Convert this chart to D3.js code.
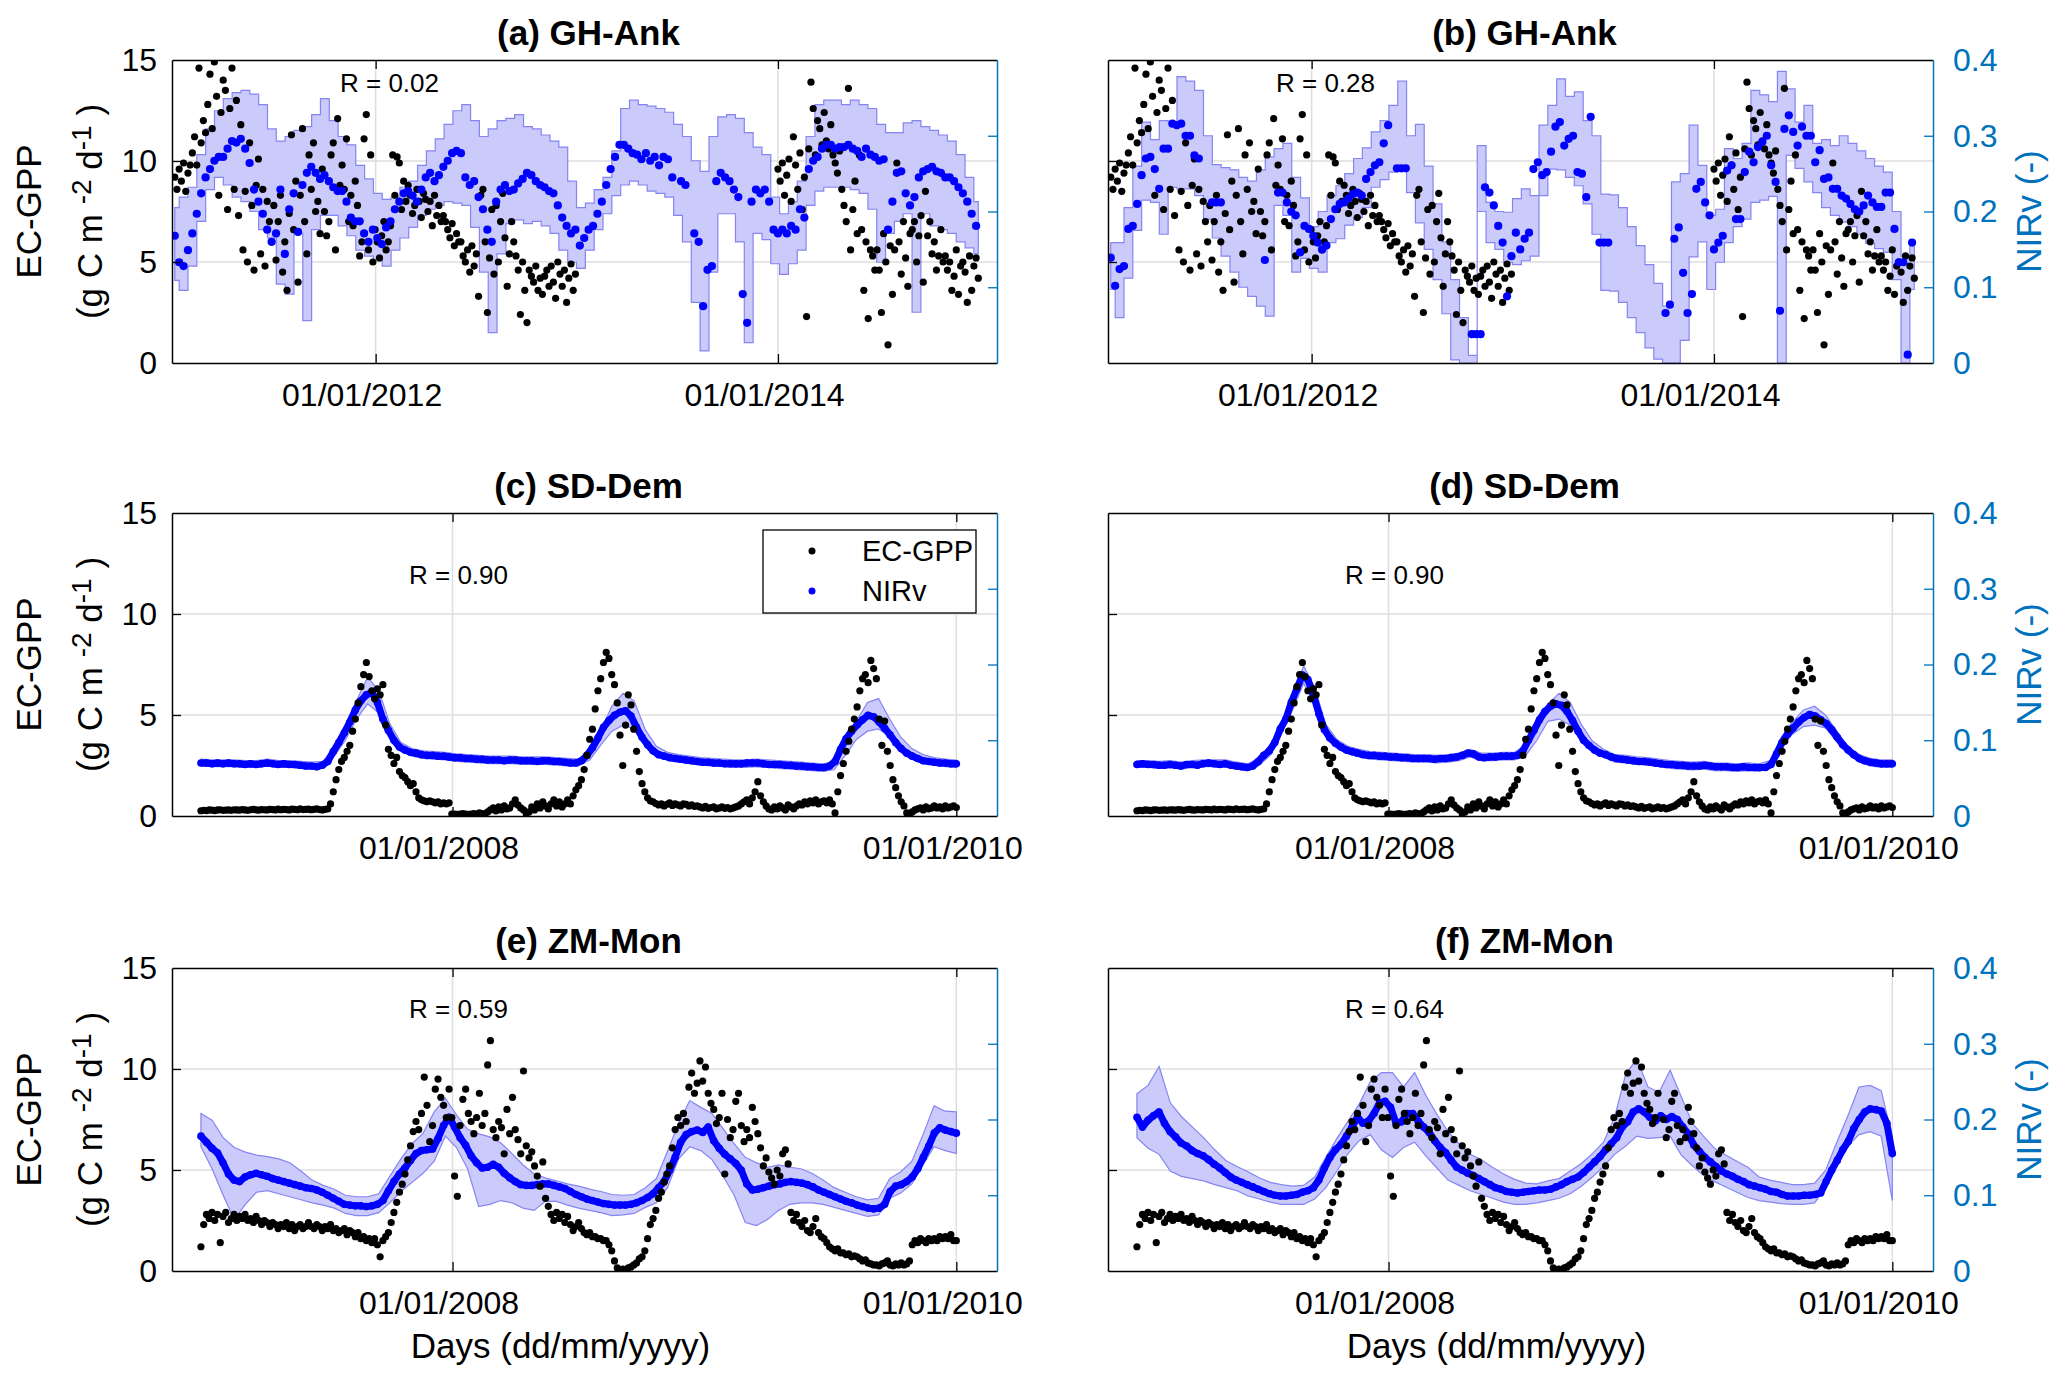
<!DOCTYPE html>
<html lang="en">
<head>
<meta charset="UTF-8">
<title>EC-GPP and NIRv at three sites</title>
<script src="https://d3js.org/d3.v7.min.js"></script>
<style>
  body { margin: 0; background: #fff; }
</style>
</head>
<body>
<script>
// ---------------- data ----------------
const sites = ["GH-Ank", "SD-Dem", "ZM-Mon"];
const rValues = [0.02, 0.28, 0.90, 0.90, 0.59, 0.64];
const ghTicks = ["2012-01-01", "2014-01-01"];
const sdzmTicks = ["2008-01-01", "2010-01-01"];
const ghDomain = ["2010-12-27", "2015-02-03"];
const sdzmDomain = ["2006-11-20", "2010-03-01"];
const gppTicks = [0, 5, 10, 15];
const nirvTicks = [0, 0.1, 0.2, 0.3, 0.4];

// GH-Ank EC-GPP, 4-day samples, 2011-01-01 .. 2012-12-29
const ghGpp1112 = [
  9.2,8.6,9.6,9.0,9.9,8.5,9.4,9.8, 10.4,11.2,9.8,14.6,10.9,12.0,11.4,
  12.8,14.3,11.6,14.9,13.2,8.3,12.4,14.0, 13.5,7.6,12.6,14.6,8.6,13.0,7.3,
  11.8,5.6,8.5,5.0,10.9,7.8,4.6,8.8, 10.1,5.4,8.6,4.8,8.0,7.0,6.0,
  7.8,5.1,7.0,8.3,4.5,6.0,3.6,7.4, 11.3,6.6,9.0,4.0,8.3,11.6,7.0,5.4,
  10.3,8.6,10.9,7.5,8.0,6.4,9.6, 7.5,6.3,7.0,10.3,10.9,5.6,12.1,8.8,
  9.8,8.6,11.1,7.0,8.3,6.8,9.0, 7.8,5.3,6.0,11.1,12.3,5.6,10.3,5.0,
  6.6,6.0,5.2,6.3,7.0,5.6,6.0,6.8, 10.3,8.3,10.2,9.9,7.6,9.0,8.0,
  8.8,8.3,7.4,7.8,8.6,8.0,7.2,8.4, 8.1,7.5,8.0,6.8,8.3,7.3,7.8,7.0,
  7.3,7.0,6.6,6.2,6.9,5.8,6.4,6.0, 6.0,5.3,5.0,5.6,4.5,5.8,4.8,
  5.4,3.3,8.3,8.6,6.0,2.5,5.2,7.6, 4.4,7.8,5.0,7.0,8.4,6.2,3.8,5.4,
  7.0,6.0,5.3,4.6,2.4,5.0,3.6, 2.0,4.6,4.3,4.0,4.8,3.6,4.2,3.4,
  4.3,4.6,3.8,4.8,4.0,3.2,5.0, 4.4,3.8,4.6,3.0,4.2,4.9,3.6,4.4
];
// GH-Ank EC-GPP, 4-day samples, 2014-01-01 .. 2014-12-31 (no data in 2013)
const ghGpp14 = [
  9.6,9.0,9.9,8.3,9.3,10.1,8.0,11.2, 9.8,8.6,10.4,7.6,9.2,2.3,10.6,
  13.9,12.6,10.3,12.0,11.6,10.8,12.4,11.0, 10.6,11.8,10.3,9.9,9.4,10.5,8.6,
  7.8,7.0,13.6,5.6,7.6,9.0,6.4,10.3, 6.6,3.6,6.0,2.2,5.6,5.3,4.6,
  5.6,4.6,2.5,6.4,5.0,0.9,5.8,3.4, 5.6,9.9,6.0,4.4,7.0,5.2,3.8,6.4,
  6.6,7.0,5.0,6.3,7.3,4.0,8.5, 6.3,7.0,5.4,6.0,4.6,5.3,6.6,5.0,
  5.3,4.6,5.0,3.6,4.3,5.6,3.4,4.8, 5.0,4.5,3.0,5.3,3.6,4.8,5.2,4.2
];
// GH-Ank NIRv, 8-day samples, 2011-01-01 .. 2014-12-27
const ghNirvA = [
  .168,.133,.128,.149, .171,.197,.224, .245,.256,.267,.272, .272,.283,.293,.291,
  .296,.283,.264,.229, .213,.197,.176,.160, .171,.229,.144,.203, .224,.173,.235,.251,
  .259,.251,.243, .248,.240,.232,.227, .227,.213,.192,.187, .187,.171,.160,.176,
  .165,.157,.179,.187, .203,.213,.224, .227,.221,.213,.229, .245,.251,.240,.248,
  .259,.267,.277,.280, .277,.245,.235,.240, .219,.203,.176,.160, .213,.229,.235,.227,
  .229,.237,.243, .251,.248,.240,.235, .232,.227,.224,.208, .192,.181,.171,.176,
  .155,.165,.176,.181, .197,.213,.235, .256,.272,.288,.288, .283,.277,.275,.269,
  .277,.267,.272,.261, .272,.269,.245,null, .240,.235,null,.171, .160,.075,.123,.128,
  .240,.251,.245, .240,.229,.219,.091, .053,.213,.229,.224, .229,.213,.176,.171,
  .176,.171,.181,.176, .203,.192,.256, .267,.272,.283,.288, .288,.283,.285,.285,
  .288,.283,.280,.272, .283,.275,.272,.267, .269,.176,.213,.251, .253,.224,.208,.219,
  .245,.253,.256, .259,.253,.251,.245, .245,.240,.232,.224, .213,.197,.181
];
const ghNirvB = [
  .139,.102,.124,.128, .177,.181,.210, .248,.270,.272,.256, .230,.283,.283,.316,
  .314,.316,.300,.300, .274,.270,null,null, .212,.212,.212,null, null,null,null,null,
  null,null,null, null,.136,null,null, .225,.225,.212,.200, .195,.146,.181,.177,
  .168,.159,.150,.155, .190,.203,.210, .212,.217,.223,.225, .221,.243,.252,.261,
  .265,.290,.314,null, .257,.257,.257,null, null,null,null,null, null,null,null,null,
  null,null,null, null,null,.038,.038, .038,.232,.225,.208, .181,.159,.088,.141,
  .172,.150,.164,.172, .256,.265,.248, .252,.279,.312,.318, .287,.296,.300,.252,
  .250,.219,.325,null, .159,.159,.159,null, null,null,null,null, null,null,null,null,
  null,null,null, .066,.077,.164,.179, .119,.066,.091,.230, .239,.212,.195,.150,
  .159,.168,.254,.261, .190,.190,.252, .279,.265,.285,.292, .300,.261,.239,.069,
  .309,.327,.305,.287, .312,.300,.300,.265, .281,.243,.245,.230, .230,.221,.217,.210,
  .203,.200,.208, .221,.212,.206,.206, .225,.225,.177,.133, .133,.011,.159
];
// GH-Ank NIRv uncertainty band, 16-day samples, 2011-01-01 .. 2014-12-31
const ghHiA = [
  .205,.219,.232,.275,.309,.333,.349,.357,.360,.355, .341,.309,.293,.299,.307,.312,.328,.349,.320,.299,
  .288,.261,.243,.224,.216,.219,.232,.240,.261,.280, .296,.315,.333,.341,.320,.299,.309,.320,.323,.328,
  .312,.309,.301,.293,.285,.240,.205,.211,.229,.245, .280,.336,.347,.341,.339,.336,.331,.315,.299,.267,
  .253,.299,.325,.328,.323,.304,.285,.275,.219,.197, .213,.240,.299,.341,.347,.347,.341,.347,.341,.336,
  .315,.304,.304,.317,.320,.312,.307,.301,.293,.275, .245,.213
];
const ghLoA = [
  .109,.096,.128,.187,.229,.245,.235,.219,.213,.200, .176,.165,.104,.091,.171,.056,.176,.195,.195,.181,
  .168,.149,.141,.136,.128,.149,.165,.179,.195,.203, .208,.213,.211,.208,.179,.120,.040,.144,.184,.189,
  .184,.187,.181,.171,.149,.133,.125,.149,.176,.197, .221,.235,.240,.235,.227,.224,.219,.195,.160,.080,
  .016,.120,.197,.197,.160,.027,.171,.163,.131,.117, .131,.149,.208,.227,.232,.232,.232,.229,.224,.203,
  .133,.171,.187,.197,.067,.197,.181,.176,.171,.160, .152,.144
];
const ghHiB = [
  .159,.159,.205,.260,.318,.295,.320,.318,.378,.372, .360,.300,.262,.258,.255,.245,.240,.255,.272,.283,
  .290,.245,.218,.180,.200,.221,.234,.250,.270,.284, .305,.320,.340,.372,.300,.315,.260,.210,.160,.110,
  .060,.010,.287,.212,.200,.199,.217,.230,.221,.314, .340,.375,.352,.358,.320,.300,.223,.222,.205,.180,
  .155,.130,.105,.075,.239,.250,.314,.261,.195,.203, .283,.270,.290,.360,.354,.345,.385,.362,.318,.340,
  .290,.295,.287,.300,.290,.280,.270,.260,.252,.200, .141,.159
];
const ghLoB = [
  .097,.060,.112,.175,.215,.212,.170,.232,.230,.230, .221,.190,.165,.141,.120,.100,.088,.075,.062,.208,
  .195,.120,.138,.125,.120,.159,.164,.182,.192,.205, .232,.242,.252,.256,.225,.185,.150,.110,.065,.004,
  0,0,.200,.159,.150,.133,.130,.135,.141,.221, .256,.255,.245,.234,.210,.170,.096,.095,.080,.060,
  .040,.020,.005,0,0,.030,.140,.160,.097,.133, .159,.180,.190,.212,.215,.220,0,.274,.257,.239,
  .225,.205,.195,.186,.180,.170,.158,.151,.146,.110, 0,.097
];

// SD-Dem EC-GPP, 4-day samples, 2007-01-01 .. 2010-01-01
const sdGpp = [
  0.26,0.28,0.27,0.3,0.29,0.27,0.3,0.31,0.28,0.29, 0.3,0.28,0.31,0.3,0.29,0.32,0.3,0.28,0.31,0.33,
  0.3,0.29,0.32,0.31,0.3,0.33,0.32,0.3,0.34,0.31, 0.33,0.32,0.3,0.34,0.33,0.31,0.35,0.32,0.33,0.34,
  0.31,0.33,0.35,0.32,0.3,0.33,0.35,
  0.6,1.2,1.8,2.3,2.7,2.9,3.2,3.5,4.2,4.8, 5.6,6.4,7.0,7.6,6.9,6.2,5.8,6.3,6.0,6.5,
  4.5,3.3,3.0,2.6,2.9,2.2,2.0,1.9,1.7,1.5, 1.6,1.2,0.9,0.8,0.75,0.7,0.75,0.7,0.65,0.7,
  0.6,0.65,0.6,0.65,0.1,
  0.1,0.08,0.1,0.12,0.1,0.08,0.1,0.12,0.1,0.15,0.12,0.1,0.2,0.3,
  0.4,0.25,0.45,0.3,0.5,0.35,0.4,0.6,0.8,0.55, 0.4,0.3,0.1,0.2,0.45,0.3,0.6,0.4,0.7,0.5,
  0.35,0.6,0.8,0.5,0.7,0.45,0.6,0.8,0.6,1.0, 1.3,1.5,1.8,2.3,3.0,3.8,4.3,5.3,6.2,6.8,
  7.6,8.1,7.8,7.0,6.5,5.6,4.0,2.5,4.5,6.0, 5.5,4.3,3.2,2.2,1.6,1.2,0.9,0.75,0.7,
  0.62,0.55,0.6,0.5,0.58,0.65,0.52,0.6,0.55,0.5,0.6,0.58,0.5,0.55,0.48,0.5,
  0.45,0.4,0.48,0.38,0.42,0.45,0.35,0.4,0.45,0.38,0.42,0.35,0.4,0.45,0.5,
  0.6,0.7,0.8,0.6,0.9,1.2,1.7,1.0,0.7,0.5,0.35,
  0.3,0.45,0.35,0.5,0.4,0.3,0.55,0.45,0.35,0.5,0.6,
  0.55,0.7,0.6,0.75,0.65,0.8,0.6,0.7,0.75,0.65,0.8,
  0.6,0.15,1.2,2.0,2.6,3.2,3.7,4.3,4.8,5.4, 6.2,6.8,7.0,6.6,7.7,7.3,6.8,4.8,3.5,4.7,
  3.2,2.5,1.8,1.4,1.0,0.7,0.5,0.15,0.05,0.2,
  0.3,0.35,0.4,0.3,0.45,0.35,0.4,0.5,0.4,0.45,0.35,0.5,0.4,0.45,0.5,0.42
];
// SD-Dem NIRv, 8-day samples, 2007-01-01 .. 2010-01-01
const sdNirvC = [
  .070,.070,.069,.070,.069,.070,.069,.069,.068,.069, .068,.069,.070,.069,.068,.069,.068,.068,.067,.066,
  .066,.065,.067,.072,.085,.097,.110,.124,.140,.152, .160,.163,.150,.128,.113,.100,.091,.087,.084,.083,
  .081,.080,.080,.079,.079,.078,.077,.077,.076,.076, .075,.075,.074,.074,.074,.073,.074,.074,.073,.073,
  .073,.072,.073,.073,.072,.072,.071,.070,.070,.073, .080,.090,.103,.117,.126,.133,.137,.139,.132,.117,
  .104,.094,.086,.081,.079,.077,.076,.075,.074,.073, .072,.071,.071,.070,.070,.069,.069,.069,.069,.070,
  .070,.070,.069,.068,.068,.068,.067,.067,.066,.066, .065,.065,.064,.064,.066,.072,.088,.102,.112,.120,
  .127,.133,.131,.124,.116,.107,.097,.089,.083,.079, .076,.073,.072,.071,.070,.070,.069,.069
];
const sdNirvD = [
  .068,.069,.068,.068,.067,.067,.068,.067,.066,.068, .068,.067,.069,.070,.069,.068,.069,.067,.066,.065,
  .064,.066,.072,.080,.086,.097,.115,.128,.150,.168, .186,.180,.160,.135,.114,.103,.096,.091,.087,.085,
  .083,.081,.080,.080,.079,.079,.078,.078,.077,.077, .076,.076,.076,.076,.075,.076,.076,.077,.078,.080,
  .083,.082,.078,.077,.078,.078,.079,.079,.079,.080, .086,.100,.113,.127,.138,.145,.148,.146,.138,.126,
  .112,.100,.093,.087,.083,.081,.078,.076,.075,.074, .073,.072,.072,.071,.070,.069,.068,.068,.067,.067,
  .066,.066,.066,.067,.066,.065,.065,.065,.064,.064, .065,.064,.064,.064,.064,.068,.082,.097,.108,.116,
  .124,.130,.134,.132,.127,.122,.114,.104,.094,.087, .081,.076,.073,.071,.070,.069,.069,.069
];
// SD-Dem NIRv band, 16-day samples
const sdHiC = [
  .075,.074,.074,.074,.073,.073,.075,.073,.073,.072, .071,.072,.092,.120,.152,.183,.166,.122,.097,.089,
  .086,.085,.084,.082,.081,.080,.079,.079,.079,.078, .078,.078,.077,.076,.075,.087,.114,.145,.162,.152,
  .114,.092,.084,.081,.079,.077,.076,.075,.074,.074, .075,.074,.073,.072,.071,.070,.069,.071,.097,.125,
  .150,.155,.128,.104,.089,.081,.077,.075,.074
];
const sdLoC = [
  .066,.065,.065,.065,.064,.064,.066,.064,.064,.063, .062,.063,.079,.100,.128,.148,.136,.104,.086,.079,
  .076,.075,.074,.072,.071,.070,.069,.069,.069,.068, .068,.068,.067,.066,.066,.074,.094,.112,.120,.115,
  .094,.080,.074,.071,.069,.067,.066,.065,.064,.064, .065,.064,.063,.062,.061,.060,.059,.061,.080,.101,
  .112,.115,.105,.090,.078,.071,.067,.065,.064
];
const sdHiD = [
  .073,.073,.072,.073,.071,.073,.074,.074,.074,.071, .069,.077,.092,.122,.160,.198,.170,.121,.101,.092,
  .088,.085,.084,.083,.082,.081,.081,.080,.081,.083, .088,.083,.083,.084,.084,.094,.122,.148,.162,.150,
  .121,.099,.088,.081,.080,.078,.077,.075,.073,.072, .071,.072,.070,.070,.069,.070,.069,.073,.104,.124,
  .140,.145,.133,.112,.092,.081,.076,.074,.074
];
const sdLoD = [
  .064,.064,.063,.064,.062,.064,.065,.065,.065,.062, .060,.067,.080,.108,.140,.175,.150,.107,.091,.082,
  .078,.075,.074,.073,.072,.071,.071,.070,.071,.073, .078,.073,.073,.074,.074,.080,.100,.125,.128,.120,
  .102,.087,.078,.071,.070,.068,.067,.065,.063,.062, .061,.062,.060,.060,.059,.060,.059,.063,.090,.108,
  .118,.120,.116,.098,.082,.071,.066,.064,.064
];

// ZM-Mon EC-GPP, 4-day samples, 2007-01-01 .. 2010-01-01
const zmGpp = [
  1.2,2.3,2.8,2.6,2.9,2.5,2.8,1.4,2.7,2.9, 2.4,2.6,2.8,2.5,2.7,2.6,2.8,2.5,2.6,2.4,
  2.7,2.5,2.3,2.5,2.4,2.2,2.4,2.3,2.1,2.3, 2.2,2.4,2.1,2.3,2.0,2.2,2.3,2.1,2.2,2.4,
  2.2,2.1,2.3,2.2,2.0,2.2,2.1,2.3,2.0,2.1, 1.9,2.0,2.1,1.8,2.0,1.9,1.7,1.9,1.6,1.7,
  1.5,1.6,1.4,1.6,1.3,0.7,1.5,1.7,1.9,2.4, 2.9,3.4,3.9,4.3,4.8,5.5,6.2,6.9,7.4,7.0,
  7.8,9.6,8.2,6.4,7.2,9.0,9.5,8.6,8.2,7.6, 9.0,7.6,4.7,3.7,7.2,8.5,9.0,7.8,7.4,6.8,
  7.6,8.8,7.2,7.8,10.2,11.4,7.0,6.6,7.4,7.1, 5.8,8.0,6.8,8.6,7.0,6.5,5.8,9.9,6.2,5.6,
  5.9,5.2,4.7,4.2,5.4,3.6,3.2,2.8,2.5,2.9, 2.6,2.8,2.4,2.7,2.3,2.0,2.2,2.4,2.1,1.9,
  1.8,1.9,1.7,1.7,1.6,1.6,1.5,1.5,1.3,1.0, 0.5,0.15,0.05,0.1,0.05,0.15,0.2,0.3,0.4,0.6,
  0.7,1.0,1.6,2.3,2.6,3.0,3.6,3.9,4.4,4.8, 5.2,6.1,7.0,7.6,7.2,7.8,7.4,9.1,9.8,8.8,
  9.3,10.4,9.4,10.1,8.8,8.3,8.0,7.3,7.6,8.8, 4.8,7.5,6.6,7.0,8.4,8.8,7.2,6.4,7.0,6.6,
  8.1,7.4,6.8,6.1,5.2,5.6,4.9,4.6,4.3,5.0, 4.7,5.8,6.0,5.3,2.9,2.5,2.8,2.4,2.2,2.5,
  2.0,1.9,2.2,2.6,1.9,1.7,1.6,1.4,1.2,1.1, 1.0,1.1,0.9,0.9,0.8,0.85,0.7,0.75,0.7,0.6,
  0.5,0.55,0.4,0.35,0.3,0.3,0.25,0.35,0.4,0.5, 0.3,0.25,0.35,0.3,0.4,0.3,0.35,0.5,1.3,1.5,
  1.4,1.6,1.5,1.4,1.6,1.5,1.6,1.5,1.7,1.6, 1.7,1.6,1.8,1.5,1.5
];
// ZM-Mon NIRv, 8-day samples
const zmNirvE = [
  .178,.170,.162,.156,.143,.128,.120,.118,.124,.127, .129,.127,.125,.122,.120,.118,.116,.114,.112,.110,
  .109,.107,.104,.100,.096,.092,.088,.087,.086,.086, .085,.086,.088,.093,.106,.118,.128,.136,.146,.155,
  .159,.160,.161,.175,.192,.203,.190,.176,.166,.152, .143,.136,.137,.141,.137,.129,.123,.118,.114,.113,
  .113,.114,.115,.115,.113,.111,.109,.105,.101,.098, .095,.093,.091,.089,.088,.087,.087,.087,.088,.090,
  .093,.097,.102,.110,.118,.133,.150,.170,.180,.184, .186,.183,.190,.172,.162,.154,.148,.142,.133,.115,
  .107,.108,.110,.112,.114,.115,.117,.118,.117,.116, .114,.111,.107,.104,.101,.098,.095,.092,.090,.087,
  .085,.083,.082,.083,.088,.105,.112,.114,.118,.124, .135,.150,.165,.182,.189,.186,.184,.182
];
const zmNirvF = [
  .203,.190,.199,.205,.210,.195,.184,.177,.169,.165, .159,.155,.152,.147,.141,.136,.130,.124,.120,.117,
  .114,.111,.108,.105,.102,.100,.099,.099,.100,.101, .104,.106,.110,.120,.136,.150,.160,.167,.178,.190,
  .203,.195,.198,.208,.222,.224,.216,.195,.197,.208, .208,.198,.190,.183,.172,.163,.156,.146,.137,.133,
  .129,.126,.122,.118,.114,.110,.108,.105,.104,.103, .104,.105,.106,.107,.107,.108,.111,.114,.118,.121,
  .124,.130,.137,.144,.151,.160,.168,.176,.190,.197, .210,.214,.210,.203,.198,.205,.200,.204,.200,.190,
  .181,.166,.158,.150,.144,.138,.132,.128,.125,.121, .118,.114,.112,.110,.108,.105,.104,.101,.099,.099,
  .099,.100,.100,.101,.103,.118,.133,.146,.160,.171, .188,.200,.210,.214,.213,.211,.195,.155
];
// ZM-Mon NIRv band, 16-day samples
const zmHiE = [
  .208,.199,.176,.163,.157,.153,.151,.148,.143,.132, .120,.113,.108,.100,.098,.098,.102,.125,.148,.168,
  .182,.210,.228,.206,.187,.181,.177,.169,.155,.140, .128,.123,.119,.115,.112,.108,.105,.101,.100,.101,
  .110,.122,.158,.195,.225,.216,.208,.188,.168,.150, .143,.137,.140,.137,.135,.129,.120,.110,.104,.098,
  .094,.096,.122,.131,.145,.180,.218,.211,.210
];
const zmLoE = [
  .164,.135,.100,.068,.088,.104,.106,.102,.098,.094, .090,.087,.083,.076,.073,.073,.077,.090,.105,.117,
  .129,.145,.178,.163,.135,.085,.088,.093,.090,.083, .080,.092,.092,.087,.083,.080,.077,.073,.074,.076,
  .084,.090,.110,.148,.164,.159,.147,.125,.100,.064, .060,.068,.080,.088,.090,.090,.088,.084,.080,.076,
  .072,.074,.096,.103,.115,.140,.164,.159,.155
];
const zmHiF = [
  .234,.245,.270,.222,.204,.190,.176,.160,.146,.138, .131,.123,.117,.114,.112,.113,.124,.150,.175,.198,
  .220,.250,.262,.262,.243,.262,.232,.207,.184,.168, .154,.147,.137,.128,.121,.116,.115,.119,.122,.132,
  .142,.155,.170,.203,.260,.280,.243,.236,.265,.230, .195,.178,.162,.153,.145,.137,.124,.120,.117,.114,
  .114,.116,.133,.170,.205,.243,.245,.238,.176
];
const zmLoF = [
  .176,.162,.154,.132,.125,.122,.119,.114,.110,.106, .099,.095,.091,.088,.088,.088,.095,.110,.132,.155,
  .172,.180,.160,.150,.163,.170,.152,.136,.120,.113, .106,.101,.096,.091,.088,.088,.090,.093,.096,.102,
  .112,.124,.138,.154,.165,.178,.175,.176,.178,.153, .139,.126,.118,.111,.104,.097,.093,.091,.089,.088,
  .088,.090,.110,.143,.165,.180,.184,.178,.093
];

// ---------------- helpers ----------------
const parse = d3.utcParse("%Y-%m-%d");
const fmtTick = d3.utcFormat("%d/%m/%Y");

// values are evenly spaced between start and end dates
function series(start, end, values) {
  const t0 = +parse(start), t1 = +parse(end), n = values.length;
  return values.map((v, i) => ({date: new Date(t0 + (t1 - t0) * i / (n - 1)), v: v}));
}
function bandSeries(start, end, lo, hi) {
  const t0 = +parse(start), t1 = +parse(end), n = lo.length;
  return lo.map((l, i) => ({date: new Date(t0 + (t1 - t0) * i / (n - 1)), lo: l, hi: hi[i]}));
}

const ghGppPts = series("2011-01-01", "2012-12-29", ghGpp1112)
  .concat(series("2014-01-01", "2014-12-31", ghGpp14));
const sdGppPts = series("2007-01-01", "2010-01-01", sdGpp);
const zmGppPts = series("2007-01-01", "2010-01-01", zmGpp);

const rowsCfg = [
  {domain: ghDomain, ticks: ghTicks, gpp: ghGppPts},
  {domain: sdzmDomain, ticks: sdzmTicks, gpp: sdGppPts},
  {domain: sdzmDomain, ticks: sdzmTicks, gpp: zmGppPts}
];

const panels = [
  {tag: "(a)", row: 0, col: 0, nirv: series("2011-01-01", "2014-12-27", ghNirvA),
   band: bandSeries("2011-01-01", "2014-12-31", ghLoA, ghHiA), r: rValues[0], rAt: [168, 32]},
  {tag: "(b)", row: 0, col: 1, nirv: series("2011-01-01", "2014-12-27", ghNirvB),
   band: bandSeries("2011-01-01", "2014-12-31", ghLoB, ghHiB), r: rValues[1], rAt: [168, 32]},
  {tag: "(c)", row: 1, col: 0, nirv: series("2007-01-01", "2010-01-01", sdNirvC),
   band: bandSeries("2007-01-01", "2010-01-01", sdLoC, sdHiC), r: rValues[2], rAt: [237, 71], legend: true},
  {tag: "(d)", row: 1, col: 1, nirv: series("2007-01-01", "2010-01-01", sdNirvD),
   band: bandSeries("2007-01-01", "2010-01-01", sdLoD, sdHiD), r: rValues[3], rAt: [237, 71]},
  {tag: "(e)", row: 2, col: 0, nirv: series("2007-01-01", "2010-01-01", zmNirvE),
   band: bandSeries("2007-01-01", "2010-01-01", zmLoE, zmHiE), r: rValues[4], rAt: [237, 50]},
  {tag: "(f)", row: 2, col: 1, nirv: series("2007-01-01", "2010-01-01", zmNirvF),
   band: bandSeries("2007-01-01", "2010-01-01", zmLoF, zmHiF), r: rValues[5], rAt: [237, 50]}
];

// ---------------- layout / style ----------------
const W = 2067, H = 1385;
const colLeft = [172, 1108], rowTop = [60, 513, 968];
const plotW = 825, plotH = 303;
const FONT = "'Liberation Sans', Arial, Helvetica, sans-serif";
const TICK_FONT = 32, LABEL_FONT = 35, LEGEND_FONT = 29, R_FONT = 26;
const AXIS_BLUE = "#0072bd", GRID = "#dedede";
const BAND_FILL = "#cacafb", BAND_EDGE = "#8585f2";

const svg = d3.select("body").append("svg")
  .attr("width", W).attr("height", H)
  .style("font-family", FONT);
svg.append("rect").attr("width", W).attr("height", H).attr("fill", "#fff");

function styleAxis(g, color) {
  g.attr("font-size", TICK_FONT).attr("font-family", FONT);
  g.select(".domain").attr("stroke", color).attr("stroke-width", 1.5);
  g.selectAll(".tick line").attr("stroke", color).attr("stroke-width", 1.3);
  g.selectAll(".tick text").attr("fill", color);
}

panels.forEach((p, pi) => {
  const rc = rowsCfg[p.row];
  const left = colLeft[p.col], top = rowTop[p.row];
  const g = svg.append("g").attr("transform", `translate(${left},${top})`);

  const x = d3.scaleUtc().domain(rc.domain.map(parse)).range([0, plotW]);
  const yL = d3.scaleLinear().domain([0, 15]).range([plotH, 0]);
  const yR = d3.scaleLinear().domain([0, 0.4]).range([plotH, 0]);
  const tickDates = rc.ticks.map(parse);

  const clipId = "clip" + pi;
  g.append("clipPath").attr("id", clipId)
    .append("rect").attr("width", plotW).attr("height", plotH);

  // grid
  g.append("g").selectAll("line").data(gppTicks.filter(t => t > 0 && t < 15)).join("line")
    .attr("x1", 0).attr("x2", plotW).attr("y1", d => yL(d)).attr("y2", d => yL(d))
    .attr("stroke", GRID).attr("stroke-width", 1.5);
  g.append("g").selectAll("line").data(tickDates).join("line")
    .attr("x1", d => x(d)).attr("x2", d => x(d)).attr("y1", 0).attr("y2", plotH)
    .attr("stroke", GRID).attr("stroke-width", 1.5);

  const data = g.append("g").attr("clip-path", `url(#${clipId})`);

  // NIRv uncertainty band (GH-Ank composites drawn as steps)
  data.append("path").datum(p.band)
    .attr("d", d3.area().curve(p.row === 0 ? d3.curveStep : d3.curveLinear)
      .x(d => x(d.date)).y0(d => yR(d.lo)).y1(d => yR(d.hi)))
    .attr("fill", BAND_FILL).attr("stroke", BAND_EDGE).attr("stroke-width", 1.2);

  const nirvPts = p.nirv.filter(d => d.v != null);
  const drawNirv = () => {
    if (p.row > 0) {
      data.append("path").datum(p.nirv)
        .attr("d", d3.line().defined(d => d.v != null).x(d => x(d.date)).y(d => yR(d.v)))
        .attr("fill", "none").attr("stroke", "#0000ff").attr("stroke-width", 7)
        .attr("stroke-linejoin", "round");
    }
    data.append("g").selectAll("circle").data(nirvPts).join("circle")
      .attr("cx", d => x(d.date)).attr("cy", d => yR(d.v))
      .attr("r", p.row > 0 ? 3.8 : 4.1).attr("fill", "#0000ff");
  };
  const drawGpp = () => {
    data.append("g").selectAll("circle").data(rc.gpp).join("circle")
      .attr("cx", d => x(d.date)).attr("cy", d => yL(d.v))
      .attr("r", 3.6).attr("fill", "#000");
  };
  if (p.row === 0) { drawGpp(); drawNirv(); } else { drawNirv(); drawGpp(); }

  // axes (ticks point inward, as in the original)
  const ax = g.append("g").attr("transform", `translate(0,${plotH})`)
    .call(d3.axisBottom(x).tickValues(tickDates).tickFormat(fmtTick)
      .tickSizeInner(-9).tickSizeOuter(0).tickPadding(20));
  styleAxis(ax, "#000");
  ax.selectAll(".tick text").attr("dx", -14);
  const axTop = g.append("g")
    .call(d3.axisTop(x).tickValues(tickDates).tickFormat(() => "")
      .tickSizeInner(-9).tickSizeOuter(0));
  styleAxis(axTop, "#000");

  const ayL = g.append("g")
    .call(d3.axisLeft(yL).tickValues(gppTicks)
      .tickFormat(p.col === 0 ? d3.format("d") : () => "")
      .tickSizeInner(-9).tickSizeOuter(0).tickPadding(15));
  styleAxis(ayL, "#000");
  ayL.selectAll(".tick line").filter(d => d === 0 || d === 15).remove();

  const ayR = g.append("g").attr("transform", `translate(${plotW},0)`)
    .call(d3.axisRight(yR).tickValues(nirvTicks)
      .tickFormat(p.col === 1 ? d3.format(".1~f") : () => "")
      .tickSizeInner(-9).tickSizeOuter(0).tickPadding(20));
  styleAxis(ayR, AXIS_BLUE);
  ayR.selectAll(".tick line").filter(d => d === 0 || d === 0.4).remove();

  // title
  g.append("text").attr("x", plotW / 2 + 4).attr("y", -15)
    .attr("text-anchor", "middle").attr("font-size", LABEL_FONT).attr("font-weight", "bold")
    .text(p.tag + " " + sites[p.row]);

  // correlation
  g.append("text").attr("x", p.rAt[0]).attr("y", p.rAt[1])
    .attr("font-size", R_FONT).text("R = " + d3.format(".2f")(p.r));

  // y labels
  if (p.col === 0) {
    const cy = top + plotH / 2;
    svg.append("text").attr("transform", `translate(41,${cy}) rotate(-90)`)
      .attr("text-anchor", "middle").attr("font-size", LABEL_FONT).text("EC-GPP");
    const unit = svg.append("text").attr("transform", `translate(102,${cy}) rotate(-90)`)
      .attr("text-anchor", "middle").attr("font-size", LABEL_FONT);
    unit.append("tspan").text("(g C m ");
    unit.append("tspan").attr("baseline-shift", "40%").attr("font-size", "80%").text("-2");
    unit.append("tspan").text(" d");
    unit.append("tspan").attr("baseline-shift", "40%").attr("font-size", "80%").text("-1");
    unit.append("tspan").text(" )");
  } else {
    svg.append("text").attr("transform", `translate(2041,${top + plotH / 2}) rotate(-90)`)
      .attr("text-anchor", "middle").attr("font-size", LABEL_FONT).attr("fill", AXIS_BLUE)
      .text("NIRv (-)");
  }

  if (p.row === 2) {
    svg.append("text").attr("x", left + plotW / 2 - 24).attr("y", 1358)
      .attr("text-anchor", "middle").attr("font-size", LABEL_FONT).text("Days (dd/mm/yyyy)");
  }

  if (p.legend) {
    const lg = g.append("g").attr("transform", "translate(591,17)");
    lg.append("rect").attr("width", 213).attr("height", 83)
      .attr("fill", "#fff").attr("stroke", "#000").attr("stroke-width", 1.3);
    const items = [{name: "EC-GPP", color: "#000"}, {name: "NIRv", color: "#0000ff"}];
    items.forEach((it, i) => {
      lg.append("circle").attr("cx", 49).attr("cy", 21 + i * 40).attr("r", 3.5).attr("fill", it.color);
      lg.append("text").attr("x", 99).attr("y", 21 + i * 40).attr("dy", "0.35em")
        .attr("font-size", LEGEND_FONT).text(it.name);
    });
  }
});
</script>
</body>
</html>
